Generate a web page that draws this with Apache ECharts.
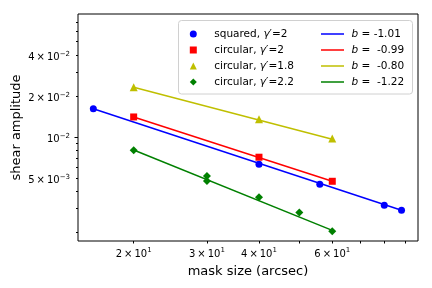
<!DOCTYPE html>
<html>
<head>
<meta charset="utf-8">
<script src="https://cdn.jsdelivr.net/npm/echarts@6.0.0/dist/echarts.min.js"></script>
<style>html,body{margin:0;padding:0;background:#fff;}#c{width:432px;height:288px;}</style>
</head>
<body>
<div id="c"></div>
<script>
// ---- data ----
const squaredX = [16, 40, 56, 80, 88];
const squaredY = [0.0161, 0.0063, 0.00449, 0.00315, 0.00289];
const circ2X = [20, 40, 60];
const circ2Y = [0.0140, 0.00709, 0.00472];
const circ18X = [20, 40, 60];
const circ18Y = [0.0231, 0.01349, 0.00972];
const circ22X = [20, 30, 30, 40, 50, 60];
const circ22Y = [0.00798, 0.00517, 0.00475, 0.00360, 0.00279, 0.00203];

// fitted power-law lines (endpoints)
const fitSquaredX = [16, 88];
const fitSquaredY = [0.0161, 0.00289];
const fitCirc2X = [20, 60];
const fitCirc2Y = [0.0140, 0.00472];
const fitCirc18X = [20, 60];
const fitCirc18Y = [0.0231, 0.0096];
const fitCirc22X = [20, 60];
const fitCirc22Y = [0.0080, 0.00206];

const scatterNames = ['squared, γ′=2', 'circular, γ′=2', 'circular, γ′=1.8', 'circular, γ′=2.2'];
const lineNames = ['b = -1.01', 'b =  -0.99', 'b =  -0.80', 'b =  -1.22'];

const xTickLabels = [20, 30, 40, 60];
const xTickMarks = [20, 30, 40, 50, 60, 70, 80, 90];
const yTickLabels = [0.005, 0.01, 0.02, 0.04];
const yTickMinor = [0.002, 0.003, 0.004, 0.005, 0.006, 0.007, 0.008, 0.009, 0.02, 0.03, 0.04, 0.05, 0.06, 0.07];
const yTickMajor = [0.01];

// ---- rendering ----
const FONT = 'DejaVu Sans';
const zip = (xs, ys) => xs.map((x, i) => [x, ys[i]]);

function sciLabel(v) {
  const e = Math.floor(Math.log10(v) + 1e-9);
  const m = Math.round(v / Math.pow(10, e));
  const exp = (e < 0 ? '\u2212' + (-e) : String(e));
  if (m === 1) return '{n|10}{s|' + exp + '}';
  return '{n|' + m + '\u2009×\u200910}{s|' + exp + '}';
}
const tickRich = {
  n: {fontFamily: FONT, fontSize: 10, lineHeight: 14, color: '#000'},
  s: {fontFamily: FONT, fontSize: 7, lineHeight: 6, verticalAlign: 'top', color: '#000'}
};
const legendRich = {
  n: {fontFamily: FONT, fontSize: 10.5, lineHeight: 12, color: '#000'},
  n0: {fontFamily: FONT, fontSize: 10.5, lineHeight: 12, color: '#000', padding: [0, 0, 0, 12.5]},
  i: {fontFamily: FONT, fontSize: 10.5, lineHeight: 12, fontStyle: 'italic', color: '#000'},
  ib: {fontFamily: FONT, fontSize: 10.5, lineHeight: 12, fontStyle: 'italic', color: '#000', padding: [0, 0, 0, 2.5]}
};
function legendFmt(name) {
  if (name.indexOf('γ') >= 0) {
    const parts = name.split('γ');
    return '{n0|' + parts[0] + '}{i|γ}{n|' + parts[1] + '}';
  }
  return '{ib|b}{n|' + name.slice(1) + '}';
}

const colors = ['#0000ff', '#ff0000', '#bfbf00', '#008000'];
const symbols = ['circle', 'rect', 'triangle', 'diamond'];
const symSizes = [7, 7, 8, 8];
const scatterData = [zip(squaredX, squaredY), zip(circ2X, circ2Y), zip(circ18X, circ18Y), zip(circ22X, circ22Y)];
const fitData = [zip(fitSquaredX, fitSquaredY), zip(fitCirc2X, fitCirc2Y), zip(fitCirc18X, fitCirc18Y), zip(fitCirc22X, fitCirc22Y)];

const series = [];
for (let k = 0; k < 4; k++) {
  series.push({
    name: lineNames[k], type: 'line', data: fitData[k], symbol: 'none', showSymbol: false, z: 2,
    lineStyle: {color: colors[k], width: 1.5}, itemStyle: {color: colors[k]}
  });
}
for (let k = 0; k < 4; k++) {
  series.push({
    name: scatterNames[k], type: 'scatter', data: scatterData[k], symbol: symbols[k],
    symbolSize: symSizes[k], z: 3, itemStyle: {color: colors[k], opacity: 1}
  });
}

const chart = echarts.init(document.getElementById('c'), null, {renderer: 'canvas'});
chart.setOption({
  animation: false,
  backgroundColor: '#fff',
  grid: {left: 78, right: 14, top: 14, bottom: 47, show: true, borderColor: '#000', borderWidth: 1,
         backgroundColor: 'transparent', containLabel: false, outerBoundsMode: 'none'},
  xAxis: {
    type: 'log', logBase: 10, min: 14.7, max: 96.4,
    name: 'mask size (arcsec)', nameLocation: 'middle', nameGap: 24, nameMoveOverlap: false,
    nameTextStyle: {fontFamily: FONT, fontSize: 13, color: '#000'},
    axisLine: {show: false}, splitLine: {show: false}, minorTick: {show: false},
    axisTick: {show: true, length: 2.5, customValues: xTickMarks, lineStyle: {color: '#000', width: 1}},
    axisLabel: {customValues: xTickLabels, formatter: v => sciLabel(v), margin: 6, rich: tickRich}
  },
  yAxis: [{
    type: 'log', logBase: 10, min: 0.00172, max: 0.0798,
    name: 'shear amplitude', nameLocation: 'middle', nameGap: 55, nameRotate: 90, nameMoveOverlap: false,
    nameTextStyle: {fontFamily: FONT, fontSize: 13, color: '#000'},
    axisLine: {show: false}, splitLine: {show: false},
    axisTick: {show: true, length: 2, customValues: yTickMinor, lineStyle: {color: '#000', width: 1}},
    axisLabel: {customValues: yTickLabels, formatter: v => sciLabel(v), margin: 8, rich: tickRich, padding: [5, 0, 0, 0]}
  }, {
    type: 'log', logBase: 10, min: 0.00172, max: 0.0798, position: 'left',
    axisLine: {show: false}, splitLine: {show: false},
    axisTick: {show: true, length: 3.5, customValues: yTickMajor, lineStyle: {color: '#000', width: 1}},
    axisLabel: {show: false}
  }],
  legend: [{
    data: scatterNames.map((n, k) => ({name: n, icon: symbols[k]})),
    orient: 'vertical', left: 189.8, top: 28.5, padding: 0,
    itemWidth: 7, itemHeight: 7, itemGap: 5, selectedMode: false,
    formatter: legendFmt, textStyle: {rich: legendRich}
  }, {
    data: lineNames.map(n => ({name: n, icon: 'rect'})),
    orient: 'vertical', left: 321, top: 28.5, padding: 0,
    itemWidth: 23, itemHeight: 1.5, itemGap: 5, selectedMode: false,
    formatter: legendFmt, textStyle: {rich: legendRich}
  }],
  graphic: [{
    type: 'rect', z: 3, shape: {x: 178.5, y: 20.5, width: 234, height: 73.5, r: 3},
    style: {fill: 'rgba(255,255,255,0.8)', stroke: '#d0d0d0', lineWidth: 1}
  }],
  series: series
});
</script>
</body>
</html>
